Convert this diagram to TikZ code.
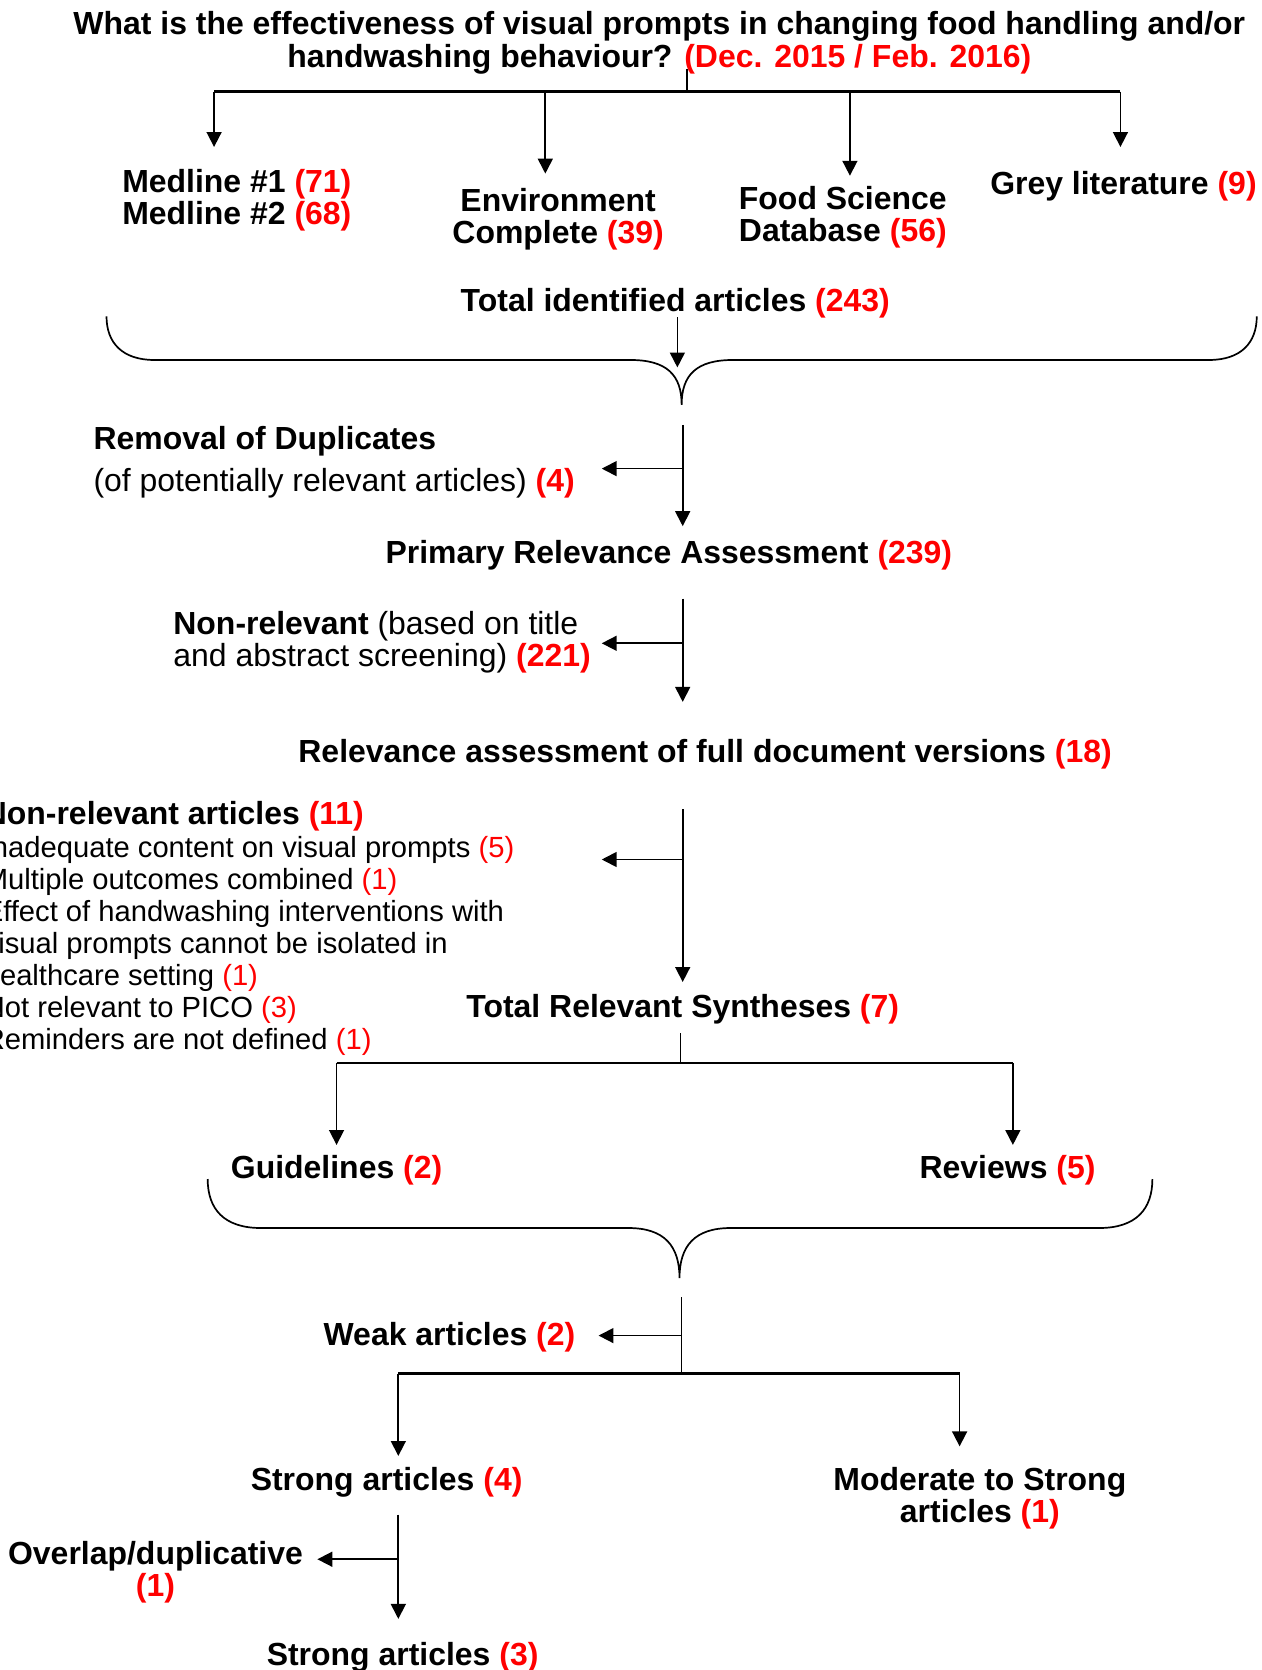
\documentclass[tikz,border=0pt]{standalone}
\usepackage{fontspec}
\setmainfont{Liberation Sans}
\usepackage{xcolor}
\usetikzlibrary{arrows.meta,positioning,calc}

\newcommand{\rn}[1]{\textcolor{red}{(#1)}}

\begin{document}
\begin{tikzpicture}[x=.5pt,y=-.5pt,
  head/.style={font=\fontsize{15}{15}\selectfont\bfseries,inner sep=0pt,yshift=-1.5pt},
  plain/.style={font=\fontsize{15}{15}\selectfont,inner sep=0pt,yshift=-1.5pt},
  small/.style={font=\fontsize{13.7}{15}\selectfont,inner sep=0pt,yshift=-1.5pt},
  arr/.style={-{Triangle[length=7pt,width=7pt]}},
  every path/.style={line width=.8pt}]
\useasboundingbox (0,0) rectangle (1184,1568);
% title and sources
\node[head,align=center,font=\fontsize{15}{15.5}\selectfont\bfseries] (q) at (619,37)
  {What is the effectiveness of visual prompts in changing food handling and/or\\
   handwashing behaviour? \rn{Dec. 2015 / Feb. 2016}};
\coordinate (q0) at (645,65);
\coordinate (q1) at (645,86);
\coordinate (b1) at (201,86);
\coordinate (b2) at (512,86);
\coordinate (b3) at (798,86);
\coordinate (b4) at (1052,86);
\coordinate (e1) at (201,138);
\coordinate (e2) at (512,163);
\coordinate (e3) at (798,165);
\coordinate (e4) at (1052,138);
\draw (q0)--(q1);
\draw[line width=1.1pt] (b1)--(b4);
\draw[arr] (b1)--(e1);
\draw[arr] (b2)--(e2);
\draw[arr] (b3)--(e3);
\draw[arr] (b4)--(e4);
\node[head,align=left,anchor=west] (med) at (114,185) {Medline \#1 \rn{71}\\Medline \#2 \rn{68}};
\node[head,align=center] (env) at (524,203) {Environment\\Complete \rn{39}};
\node[head,align=left,anchor=west] (fsd) at (693,201) {Food Science\\Database \rn{56}};
\node[head,anchor=west] (grey) at (929,172) {Grey literature \rn{9}};
\node[head] (tot) at (634,282) {Total identified articles \rn{243}};
% first brace
\draw (100,297) .. controls (100,322) and (115,338) .. (145,338) -- (592,338)
  .. controls (626,338) and (640,352) .. (640,380)
  .. controls (640,352) and (654,338) .. (688,338) -- (1135,338)
  .. controls (1165,338) and (1180,322) .. (1180,297);
\coordinate (t0) at (636,298);
\coordinate (t1) at (636,345);
\draw[arr] (t0)--(t1);
% screening
\coordinate (s0) at (641,399);
\coordinate (s1) at (641,494);
\coordinate (s2) at (641,440);
\coordinate (s3) at (565,440);
\draw[arr] (s0)--(s1);
\draw[arr] (s2)--(s3);
\node[plain,align=left,anchor=west] (dup) at (87,431)
  {\textbf{Removal of Duplicates}\\[5pt](of potentially relevant articles) \textbf{\rn{4}}};
\node[head] (pra) at (628,518) {Primary Relevance Assessment \rn{239}};
\coordinate (p0) at (641,562);
\coordinate (p1) at (641,659);
\coordinate (p2) at (641,604);
\coordinate (p3) at (565,604);
\draw[arr] (p0)--(p1);
\draw[arr] (p2)--(p3);
\node[plain,align=left,anchor=west] (nrl) at (162,600)
  {\textbf{Non-relevant} (based on title\\and abstract screening) \textbf{\rn{221}}};
\node[head] (full) at (662,705) {Relevance assessment of full document versions \rn{18}};
\coordinate (f0) at (641,760);
\coordinate (f1) at (641,922);
\coordinate (f2) at (641,807);
\coordinate (f3) at (565,807);
\draw[arr] (f0)--(f1);
\draw[arr] (f2)--(f3);
\node[small,align=left,anchor=west] (excl) at (-16,869)
  {{\fontsize{15}{15}\selectfont\bfseries Non-relevant articles \rn{11}}\\[0.5pt]
   Inadequate content on visual prompts \rn{5}\\
   Multiple outcomes combined \rn{1}\\
   Effect of handwashing interventions with\\
   visual prompts cannot be isolated in\\
   healthcare setting \rn{1}\\
   Not relevant to PICO \rn{3}\\
   Reminders are not defined \rn{1}};
\node[head] (syn) at (641,945) {Total Relevant Syntheses \rn{7}};
% syntheses split
\coordinate (y0) at (639,970);
\coordinate (y1) at (639,998);
\coordinate (g0) at (316,998);
\coordinate (r0) at (951,998);
\coordinate (g1) at (316,1075);
\coordinate (r1) at (951,1075);
\draw (y0)--(y1);
\draw (g0)--(r0);
\draw[arr] (g0)--(g1);
\draw[arr] (r0)--(r1);
\node[head] (guid) at (316,1096) {Guidelines \rn{2}};
\node[head] (rev) at (946,1096) {Reviews \rn{5}};
% second brace
\draw (195,1107) .. controls (195,1135) and (210,1153) .. (245,1153) -- (590,1153)
  .. controls (624,1153) and (638,1170) .. (638,1200)
  .. controls (638,1170) and (652,1153) .. (686,1153) -- (1032,1153)
  .. controls (1067,1153) and (1082,1135) .. (1082,1107);
% quality
\coordinate (w0) at (640,1218);
\coordinate (w1) at (640,1290);
\coordinate (w2) at (640,1254);
\coordinate (w3) at (562,1254);
\draw (w0)--(w1);
\draw[arr] (w2)--(w3);
\node[head] (weak) at (422,1253) {Weak articles \rn{2}};
\coordinate (k0) at (374,1290);
\coordinate (m0) at (901,1290);
\coordinate (k1) at (374,1367);
\coordinate (m1) at (901,1358);
\draw[line width=1.4pt] (k0)--(m0);
\draw[arr] (k0)--(k1);
\draw[arr] (m0)--(m1);
\node[head] (str4) at (363,1389) {Strong articles \rn{4}};
\node[head,align=center] (mod) at (920,1404) {Moderate to Strong\\articles \rn{1}};
\coordinate (o0) at (374,1422);
\coordinate (o1) at (374,1520);
\coordinate (o2) at (374,1464);
\coordinate (o3) at (298,1464);
\draw[arr] (o0)--(o1);
\draw[arr] (o2)--(o3);
\node[head,align=center] (ovl) at (146,1473) {Overlap/duplicative\\\rn{1}};
\node[head] (str3) at (378,1553) {Strong articles \rn{3}};
\end{tikzpicture}
\end{document}
